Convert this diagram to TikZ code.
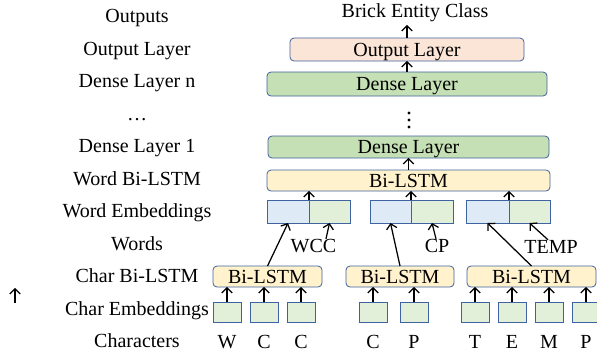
\documentclass[tikz,border=0pt]{standalone}
\usepackage{fontspec}
\setmainfont{Liberation Serif}
\usetikzlibrary{arrows.meta}

\definecolor{edge}{HTML}{3F62A0}
\definecolor{outfill}{HTML}{FBE5D6}
\definecolor{densefill}{HTML}{C5E0B4}
\definecolor{lstmfill}{HTML}{FFF2CC}
\definecolor{embblue}{HTML}{DEEBF7}
\definecolor{embgreen}{HTML}{E2F0D9}

\tikzset{
  txt/.style={inner sep=0pt, outer sep=0pt, text height=13.2pt, text depth=0pt},
  lbl/.style={txt, anchor=base},
  layer/.style={txt, draw=edge, line width=0.8pt, rounded corners=4pt, align=center},
  cell/.style={txt, draw=edge, line width=0.8pt},
  cemb/.style={cell, fill=embgreen, minimum width=28pt, minimum height=20pt},
  arr/.style={-{Straight Barb[length=5pt,width=10.5pt]}, line width=1.25pt, black},
}

\begin{document}
\begin{tikzpicture}[x=1pt, y=-1pt, font=\fontsize{20}{24}\selectfont]
\clip (0,0) rectangle (597,360);

% row captions on the left
\node[lbl] (t1) at (137,22.5) {Outputs};
\node[lbl] (t2) at (137,55) {Output Layer};
\node[lbl] (t3) at (137,87.5) {Dense Layer n};
\node[lbl] (t4) at (137,120) {…};
\node[lbl] (t5) at (137,152.5) {Dense Layer 1};
\node[lbl] (t6) at (137,185) {Word Bi-LSTM};
\node[lbl] (t7) at (137,217.5) {Word Embeddings};
\node[lbl] (t8) at (137,250) {Words};
\node[lbl] (t9) at (137,282.5) {Char Bi-LSTM};
\node[lbl] (t10) at (137,315) {Char Embeddings};
\node[lbl] (t11) at (137,347.5) {Characters};

% output and dense layers
\node[lbl] (bec) at (415,17) {Brick Entity Class};
\coordinate (bectip) at (407,25);
\node[layer, fill=outfill, minimum width=234pt, minimum height=23pt] (out) at (407,49.5) {Output Layer};
\node[layer, fill=densefill, minimum width=280pt, minimum height=24pt] (dn) at (407,84) {Dense Layer};
\node[layer, fill=densefill, minimum width=281pt, minimum height=22pt] (d1) at (408.5,147) {Dense Layer};
\node[layer, fill=lstmfill, minimum width=283pt, minimum height=21pt] (wl) at (408.5,180.5) {Bi-LSTM};

% vertical ellipsis between dense layers
\fill (409,113) circle (1.7pt) (409,120) circle (1.7pt) (409,127) circle (1.7pt);

% word embeddings: character part (blue) and word part (green)
\node[cell, fill=embblue, minimum width=42pt, minimum height=23pt] (e1b) at (288,211.5) {};
\node[cell, fill=embgreen, minimum width=41pt, minimum height=23pt] (e1g) at (329.5,211.5) {};
\node[cell, fill=embblue, minimum width=41pt, minimum height=23pt] (e2b) at (390.5,211.5) {};
\node[cell, fill=embgreen, minimum width=42pt, minimum height=23pt] (e2g) at (432,211.5) {};
\node[cell, fill=embblue, minimum width=43pt, minimum height=23pt] (e3b) at (487.5,211.5) {};
\node[cell, fill=embgreen, minimum width=41pt, minimum height=23pt] (e3g) at (529.5,211.5) {};

% words
\node[lbl] (wcc) at (313.5,252) {WCC};
\node[lbl] (cp) at (437,252) {CP};
\node[lbl] (temp) at (551,253) {TEMP};

% character-level Bi-LSTMs
\node[layer, fill=lstmfill, minimum width=109pt, minimum height=21pt] (c1) at (267.5,276.5) {Bi-LSTM};
\node[layer, fill=lstmfill, minimum width=108pt, minimum height=21pt] (c2) at (400,276.5) {Bi-LSTM};
\node[layer, fill=lstmfill, minimum width=129pt, minimum height=21pt] (c3) at (531.5,276.5) {Bi-LSTM};

% character embeddings and characters
\foreach \i/\x/\ch in {1/227/W, 2/264/C, 3/301/C, 4/373/C, 5/414/P, 6/475/T, 7/512/E, 8/549/M, 9/586/P} {
  \node[cemb] (k\i) at (\x,312) {};
  \node[lbl] (l\i) at (\x,348) {\ch};
}

% connectors
\draw[arr] (out.north) -- (bectip);
\draw[arr] (dn.north) -- (out.south);
\draw[arr] (wl.north) -- (d1.south);
\draw[arr] (e1b.north east) -- (e1b.north east |- wl.south);
\draw[arr] (e2b.north east) -- (e2b.north east |- wl.south);
\draw[arr] (e3b.north east) -- (e3b.north east |- wl.south);
\draw[arr] (c1.north) -- (e1b.south);
\draw[arr] (c2.north) -- (e2b.south);
\draw[arr] (c3.north) -- (e3b.south);
\draw[arr] ([xshift=12.5pt]wcc.north) -- (e1g.south);
\draw[arr] ([xshift=-1pt]cp.north) -- (e2g.south);
\draw[arr] ([xshift=-3pt]temp.north) -- (e3g.south);
\foreach \i in {1,2,3} \draw[arr] (k\i.north) -- (k\i.north |- c1.south);
\foreach \i in {4,5} \draw[arr] (k\i.north) -- (k\i.north |- c2.south);
\foreach \i in {6,7,8,9} \draw[arr] (k\i.north) -- (k\i.north |- c3.south);

% lone arrow at the left edge
\coordinate (sa) at (15,303);
\coordinate (sb) at (15,288);
\draw[arr] (sa) -- (sb);
\end{tikzpicture}
\end{document}
